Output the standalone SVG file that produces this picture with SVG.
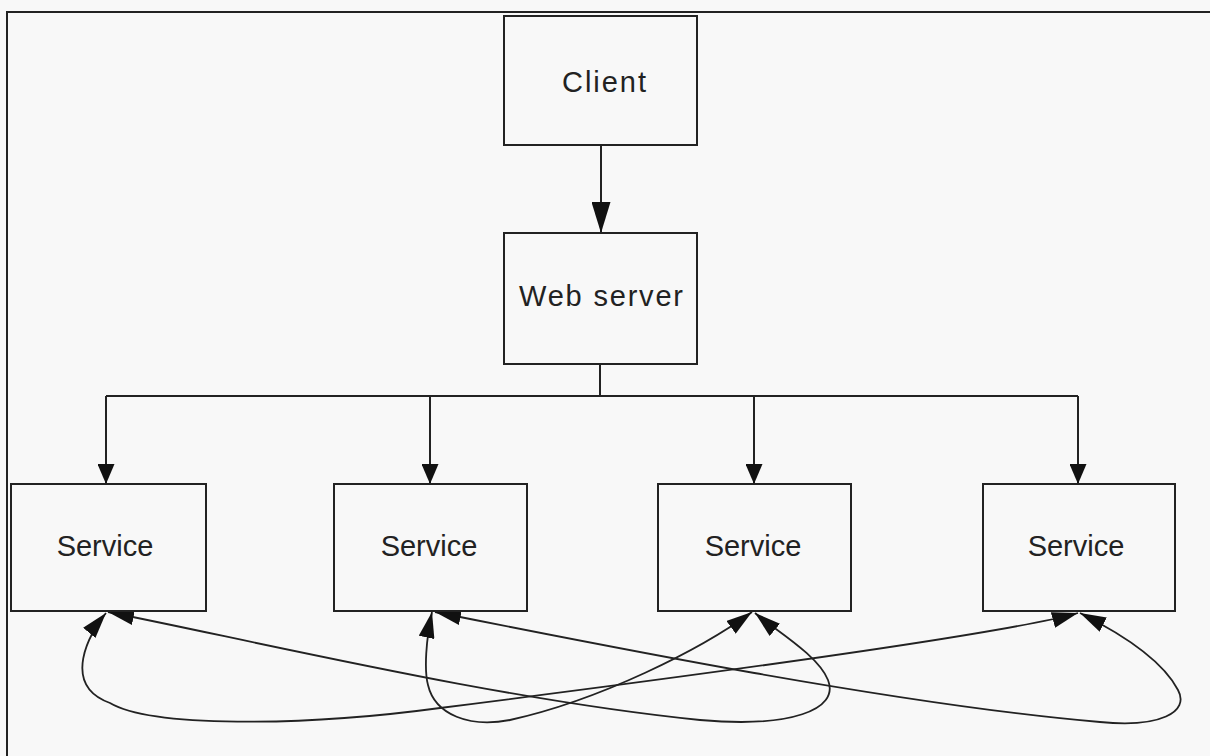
<svg xmlns="http://www.w3.org/2000/svg" width="1210" height="756" viewBox="0 0 1210 756">
<style>
.box{fill:#f8f8f8;stroke:#222;stroke-width:2}
.lbl{font-family:"Liberation Sans",Arial,sans-serif;font-size:29px;fill:#222;text-anchor:middle}
.ln{fill:none;stroke:#222;stroke-width:2}
.cv{fill:none;stroke:#222;stroke-width:1.8;marker-start:url(#ab);marker-end:url(#ab)}
</style>
<defs>
<marker id="ab" markerUnits="userSpaceOnUse" markerWidth="26" markerHeight="16" viewBox="0 0 26 16" refX="26" refY="8" orient="auto-start-reverse"><path d="M0,0 L26,8 L0,16 z" fill="#111"/></marker>
<marker id="ad" markerUnits="userSpaceOnUse" markerWidth="20" markerHeight="17" viewBox="0 0 20 17" refX="20" refY="8.5" orient="auto"><path d="M0,0 L20,8.5 L0,17 z" fill="#111"/></marker>
<marker id="ac" markerUnits="userSpaceOnUse" markerWidth="31" markerHeight="19" viewBox="0 0 31 19" refX="31" refY="9.5" orient="auto"><path d="M0,0 L31,9.5 L0,19 z" fill="#111"/></marker>
</defs>
<rect x="0" y="0" width="1210" height="756" fill="#f8f8f8"/>
<path class="ln" d="M7,756 L7,12 L1210,12"/>
<g id="connectors">
<path class="ln" d="M601,145 L601,233" marker-end="url(#ac)"/>
<path class="ln" d="M600,364 L600,396"/>
<path class="ln" d="M106,396 L1078,396"/>
<path class="ln" d="M106,396 L106,484" marker-end="url(#ad)"/>
<path class="ln" d="M430,396 L430,484" marker-end="url(#ad)"/>
<path class="ln" d="M754,396 L754,484" marker-end="url(#ad)"/>
<path class="ln" d="M1078,396 L1078,484" marker-end="url(#ad)"/>
<path class="cv" d="M106,613 C90,632 60,685 110,703 C150,727 300,727 440,708 C700,675 1000,635 1078,613"/>
<path class="cv" d="M108,612 C250,640 500,700 700,720 C790,728 840,710 828,680 C818,655 775,630 755,613"/>
<path class="cv" d="M432,612 C426,640 424,670 428,685 C435,715 470,728 510,720 C600,700 700,650 752,612"/>
<path class="cv" d="M435,612 C600,645 900,705 1100,722 C1160,728 1190,712 1178,690 C1165,665 1130,638 1080,613"/>
</g>
<g id="client"><rect class="box" x="504" y="16" width="193" height="129"/><text class="lbl" x="604" y="92" textLength="84" lengthAdjust="spacing">Client</text></g>
<g id="webserver"><rect class="box" x="504" y="233" width="193" height="131"/><text class="lbl" x="601" y="306" textLength="164" lengthAdjust="spacing">Web server</text></g>
<g id="service1"><rect class="box" x="11" y="484" width="195" height="127"/><text class="lbl" x="105" y="556">Service</text></g>
<g id="service2"><rect class="box" x="334" y="484" width="193" height="127"/><text class="lbl" x="429" y="556">Service</text></g>
<g id="service3"><rect class="box" x="658" y="484" width="193" height="127"/><text class="lbl" x="753" y="556">Service</text></g>
<g id="service4"><rect class="box" x="983" y="484" width="192" height="127"/><text class="lbl" x="1076" y="556">Service</text></g>
</svg>
